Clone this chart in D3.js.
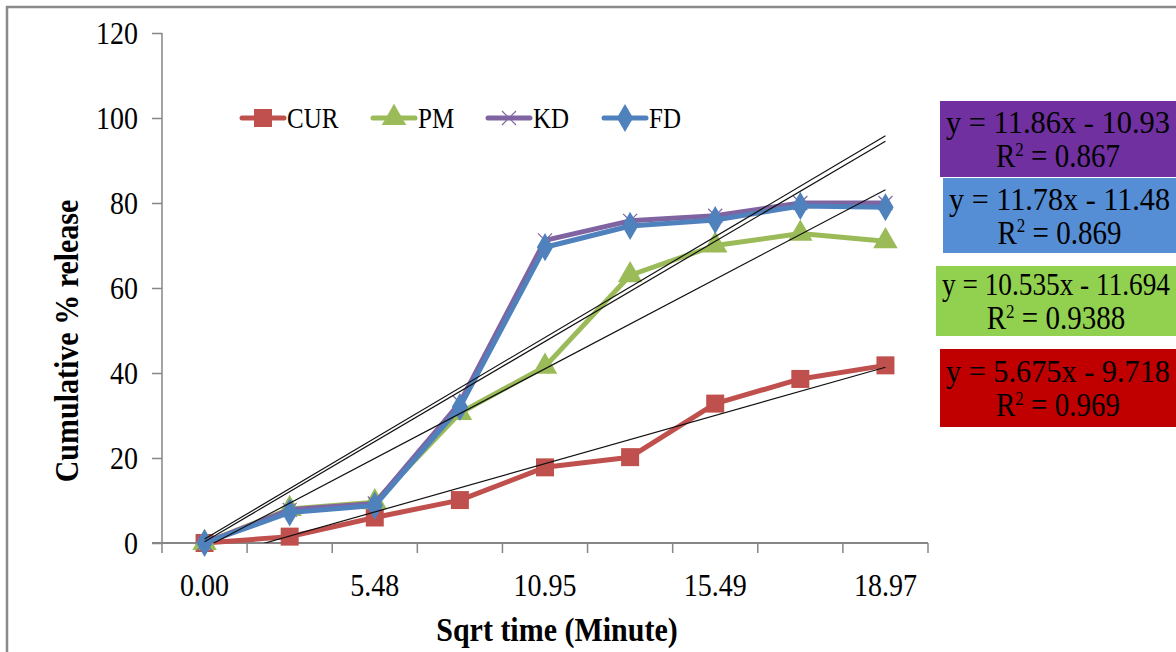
<!DOCTYPE html>
<html><head><meta charset="utf-8">
<script src="https://cdn.jsdelivr.net/npm/d3@7"></script>
<style>body{margin:0;background:#fff}svg{display:block}</style>
</head><body><svg id="c" width="1176" height="652"></svg>
<script>
const categories = ["0.00","3.87","5.48","7.75","10.95","13.42","15.49","17.32","18.97"];
const shownLabels = ["0.00","5.48","10.95","15.49","18.97"];
const yTicks = [0,20,40,60,80,100,120];
const seriesNames = ["CUR","PM","KD","FD"];
const curValues = [0,1.5,6,10.1,17.8,20.2,32.8,38.6,41.8];
const pmValues  = [0,8,9.6,30.6,41.5,63,70,72.8,71];
const kdValues  = [0,7.8,9.3,33,71.2,75.8,77,80,80];
const fdValues  = [0,7.2,8.8,32,69.6,74.6,76,79.3,79];
const slopes     = [5.675,10.535,11.86,11.78];
const intercepts = [-9.718,-11.694,-10.93,-11.48];
const eqLines  = [["y = 11.86x - 10.93","0.867"],["y = 11.78x - 11.48","0.869"],["y = 10.535x - 11.694","0.9388"],["y = 5.675x - 9.718","0.969"]];

const colors = {CUR:"#C0504D",PM:"#9BBB59",KD:"#8064A2",FD:"#4F81BD"};
const boxColors = ["#7030A0","#558ED5","#92D050","#C00000"];
const values = {CUR:curValues,PM:pmValues,KD:kdValues,FD:fdValues};

const svg = d3.select("#c");
const L=162,R=928,T=33,B=543;
const x = d3.scaleBand().domain(categories).range([L,R]).padding(0);
const bw = x.bandwidth();
const cx = c => x(c)+bw/2;
const y = d3.scaleLinear().domain([0,120]).range([B,T]);
const xi = d3.scaleLinear().domain([1,categories.length]).range([cx(categories[0]),cx(categories[categories.length-1])]);
const axisCol="#868686";
const serif="'Liberation Serif','Times New Roman',serif";

function stext(px,py,sy,size,str,anchor,bold,rot){
  const g=svg.append("g").attr("transform",`translate(${px},${py})${rot?" rotate("+rot+")":""} scale(1,${sy})`);
  return g.append("text").attr("x",0).attr("y",0).attr("text-anchor",anchor||"start").attr("font-family",serif).attr("font-size",size).attr("font-weight",bold?"bold":"normal").attr("fill","#000").text(str);
}

// outer frame
svg.append("path").attr("d","M7,652 L7,7 L1176,7").attr("fill","none").attr("stroke","#8a8a8a").attr("stroke-width",2.5);

// y axis
const ya = svg.append("g").attr("transform",`translate(${L},0)`).call(d3.axisLeft(y).tickValues(yTicks).tickSize(10).tickPadding(14).tickFormat(d3.format("d")));
ya.select(".domain").attr("stroke",axisCol).attr("stroke-width",1.5).attr("d",`M0,${T}V${B}`);
ya.selectAll(".tick line").attr("stroke",axisCol).attr("stroke-width",1.5);
ya.selectAll(".tick text").attr("font-family",serif).attr("font-size",28).attr("fill","#000").attr("transform","scale(1,1.12)");

// x axis
svg.append("line").attr("x1",L-10).attr("x2",R).attr("y1",B).attr("y2",B).attr("stroke",axisCol).attr("stroke-width",2);
const bounds = categories.map(c=>x(c)).concat([R]);
svg.selectAll(".xt").data(bounds).join("line").attr("x1",d=>d).attr("x2",d=>d).attr("y1",B).attr("y2",B+10).attr("stroke",axisCol).attr("stroke-width",1.5);
shownLabels.forEach(d=>stext(cx(d),B+53,1.12,28,d,"middle"));

// titles
stext(557,641,1.12,30,"Sqrt  time (Minute)","middle",true);
stext(78,341,1.12,30,"Cumulative % release","middle",true,-90);

// clip
svg.append("clipPath").attr("id","pc").append("rect").attr("x",L).attr("y",T).attr("width",R-L).attr("height",B-T);

function marker(g,name,px,py){
  const col=colors[name];
  if(name==="CUR"){ g.append("rect").attr("x",px-9).attr("y",py-9).attr("width",18).attr("height",18).attr("fill",col); }
  else if(name==="PM"){ g.append("path").attr("d",d3.symbol(d3.symbolTriangle,260)()).attr("transform",`translate(${px},${py})`).attr("fill",col); }
  else if(name==="FD"){ g.append("path").attr("d",d3.symbol(d3.symbolDiamond,230)()).attr("transform",`translate(${px},${py})`).attr("fill",col); }
  else { const s=7; g.append("path").attr("d",`M${px-s},${py-s}L${px+s},${py+s}M${px-s},${py+s}L${px+s},${py-s}`).attr("stroke",col).attr("stroke-width",1.2).attr("fill","none"); }
}

const line = d3.line().x((d,i)=>cx(categories[i])).y(d=>y(d));
seriesNames.forEach(name=>{
  const g=svg.append("g");
  g.append("path").datum(values[name]).attr("d",line).attr("fill","none").attr("stroke",colors[name]).attr("stroke-width",5).attr("stroke-linejoin","round");
  values[name].forEach((v,i)=>marker(g,name,cx(categories[i]),y(v)));
});

// trendlines
const tg = svg.append("g").attr("clip-path","url(#pc)");
seriesNames.forEach((name,k)=>{
  const n=categories.length;
  tg.append("line").attr("x1",xi(1)).attr("y1",y(slopes[k]*1+intercepts[k])).attr("x2",xi(n)).attr("y2",y(slopes[k]*n+intercepts[k])).attr("stroke","#111").attr("stroke-width",1.2);
});

// legend
const legX=[242,373,488,604];
seriesNames.forEach((name,k)=>{
  const g=svg.append("g"); const ly=118;
  g.append("line").attr("x1",legX[k]).attr("x2",legX[k]+42).attr("y1",ly).attr("y2",ly).attr("stroke",colors[name]).attr("stroke-width",5).attr("stroke-linecap","round");
  marker(g,name,legX[k]+21,ly);
  stext(legX[k]+45,ly+10,1.22,25,name,"start");
});

// equation boxes
const boxes=[[940,101,236,76],[943,178,233,75],[936,266,240,70],[940,349,236,78]];
boxes.forEach((b,k)=>{
  svg.append("rect").attr("x",b[0]).attr("y",b[1]).attr("width",b[2]).attr("height",b[3]).attr("fill",boxColors[k]);
  const mx=b[0]+b[2]/2;
  stext(mx,b[1]+b[3]/2-6,1.15,28,eqLines[k][0],"middle").attr("textLength",b[2]-12).attr("lengthAdjust","spacingAndGlyphs");
  const t=stext(mx,b[1]+b[3]/2+28,1.15,29,"","middle");
  t.append("tspan").text("R");
  t.append("tspan").attr("font-size",17).attr("dy",-10).text("2");
  t.append("tspan").attr("dy",10).text(" = "+eqLines[k][1]);
});
</script></body></html>
